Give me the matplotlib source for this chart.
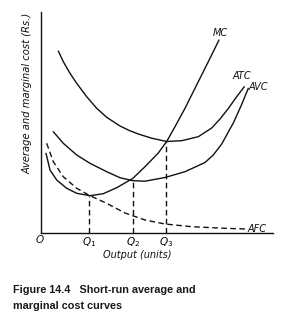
import matplotlib
matplotlib.use("Agg")
import matplotlib.pyplot as plt

# Curve points (output units, cost units)
mc_x = [5, 9, 15.7, 25.7, 35.7, 49, 62.3, 75.7, 91.7, 104, 117.3, 125.7, 134, 144, 157.3, 167.3, 178]
mc_y = [79.7, 63, 53, 44.7, 39.7, 37.3, 39.3, 45.3, 54.5, 66.3, 80, 91.5, 106.3, 124.7, 151.3, 171.3, 193]

atc_x = [17.3, 22.3, 29, 35.7, 45.7, 55.7, 65.7, 79, 88.3, 97.3, 110.7, 125.7, 140.7, 157.3, 170.7, 179, 187.3, 195.7, 203.3]
atc_y = [182, 171.3, 159.7, 149.7, 136.3, 124.7, 115.7, 107, 102.5, 99, 94.8, 91.5, 92.3, 96.3, 105, 114, 124.5, 136.3, 146.3]

avc_x = [12.3, 22.3, 35.7, 49, 65.7, 79, 91.7, 104, 124, 144, 164, 172.3, 180.7, 192.3, 200, 207.3]
avc_y = [101.3, 89.7, 78, 69.7, 61.3, 55.3, 52.3, 51.8, 55.5, 61.3, 70.5, 78, 89, 110, 127, 144.7]

afc_x = [5.7, 12.3, 22.3, 35.7, 49, 65.7, 84, 104, 124, 150.7, 184, 204]
afc_y = [89.7, 71.3, 56.3, 44.7, 37.3, 29.7, 20, 13, 9, 6.3, 4.7, 4]

q_x = [48.3, 91.7, 124.7]
q_top = [37.3, 52.8, 91.5]
q_labels = ["$Q_1$", "$Q_2$", "$Q_3$"]

W, H = 297, 318
fig = plt.figure(figsize=(W / 100, H / 100), dpi=100)
fig.patch.set_facecolor("white")
ax = fig.add_axes([41 / W, (H - 233) / H, 232 / W, 221 / H])
ax.set_xlim(0, 232)
ax.set_ylim(0, 221)
ax.set_facecolor("none")
for s in ["top", "right"]:
    ax.spines[s].set_visible(False)
for s in ["left", "bottom"]:
    ax.spines[s].set_linewidth(1.0)
    ax.spines[s].set_color("#111111")
ax.set_yticks([])
ax.set_xticks(q_x)
ax.set_xticklabels(q_labels, fontsize=7.5, fontstyle="italic")
ax.tick_params(axis="x", length=0, pad=1.5)

col = "#111111"
lw = 1.0
ax.plot(mc_x, mc_y, color=col, lw=lw, solid_capstyle="round", solid_joinstyle="round")
ax.plot(atc_x, atc_y, color=col, lw=lw, solid_capstyle="round", solid_joinstyle="round")
ax.plot(avc_x, avc_y, color=col, lw=lw, solid_capstyle="round", solid_joinstyle="round")
ax.plot(afc_x, afc_y, color=col, lw=lw, ls=(0, (4, 2.5)))
for x, t in zip(q_x, q_top):
    ax.plot([x, x], [0, t], color=col, lw=lw, ls=(0, (4, 2.5)))

tk = dict(fontsize=7, fontstyle="italic", color=col, clip_on=False)
ax.text(179, 199.7, "MC", ha="center", va="center", **tk)
ax.text(201.3, 157, "ATC", ha="center", va="center", **tk)
ax.text(217.3, 145.7, "AVC", ha="center", va="center", **tk)
ax.text(207, 4, "AFC", ha="left", va="center", **tk)
ax.text(-1.7, -7, "O", ha="center", va="center", fontsize=7.5, fontstyle="italic", color=col, clip_on=False)
ax.text(96, -21.5, "Output (units)", ha="center", va="center", fontsize=7, fontstyle="italic", color=col, clip_on=False)
ax.text(-13, 140, "Average and marginal cost (Rs.)", rotation=90, ha="center", va="center",
        fontsize=7.2, fontstyle="italic", color=col, clip_on=False)

fig.text(13 / W, 1 - 290 / H, "Figure 14.4   Short-run average and", fontsize=7.8, fontweight="bold",
         family="Liberation Sans", ha="left", va="center", color="#1a1a1a")
fig.text(13 / W, 1 - 306 / H, "marginal cost curves", fontsize=7.8, fontweight="bold",
         family="Liberation Sans", ha="left", va="center", color="#1a1a1a")

fig.savefig("out.png", dpi=100, facecolor="white")
